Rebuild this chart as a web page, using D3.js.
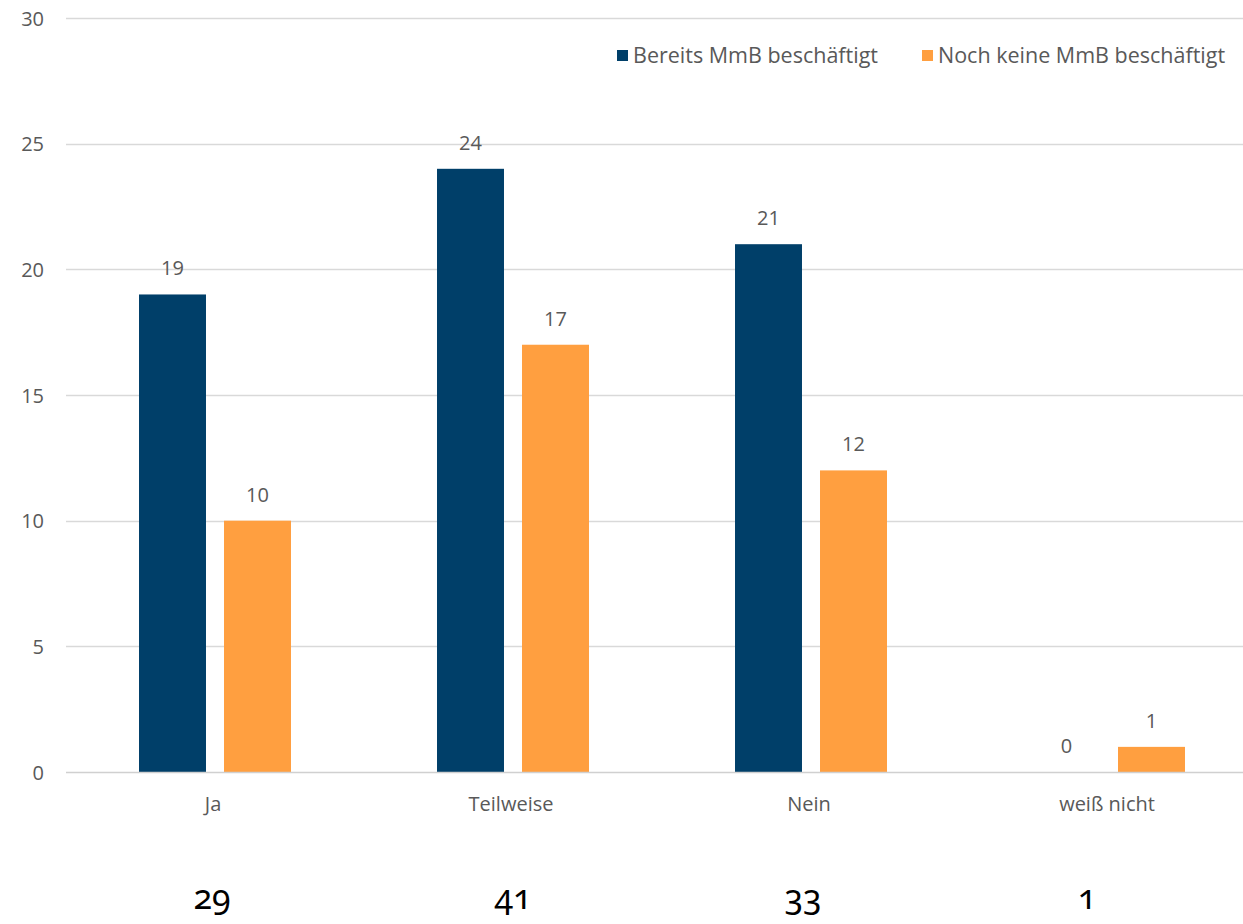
<!DOCTYPE html>
<html>
<head>
<meta charset="utf-8">
<script src="https://cdn.jsdelivr.net/npm/d3@7"></script>
<style>
  html, body { margin: 0; padding: 0; background: #fff; }
  svg { display: block; }
  .lbl { font-family: "Open Sans", sans-serif; fill: #595959; }
  .total { font-family: "Noto Sans", sans-serif; fill: #000; font-variant-numeric: oldstyle-nums; }
</style>
</head>
<body>
<svg id="chart" width="1243" height="924"></svg>
<script>
// Categories and series
const categories = ["Ja", "Teilweise", "Nein", "weiß nicht"];
const seriesNames = ["Bereits MmB beschäftigt", "Noch keine MmB beschäftigt"];
const bereits = [19, 24, 21, 0];
const nochKeine = [10, 17, 12, 1];
const totals = [29, 41, 33, 1];
const yTicks = [0, 5, 10, 15, 20, 25, 30];
const colors = ["#003f69", "#ff9f40"];

const W = 1243, H = 924;
const FS = 20;
const svg = d3.select("#chart");

const y = d3.scaleLinear().domain([0, 30]).range([772, 18]);
const x0 = d3.scaleBand().domain(categories).range([66, 1258])
  .paddingInner(0.49).paddingOuter(0.245);
const x1 = d3.scaleBand().domain(seriesNames).range([0, x0.bandwidth()])
  .paddingInner(0.212);
const color = d3.scaleOrdinal().domain(seriesNames).range(colors);

// Gridlines
svg.append("g").selectAll("line").data(yTicks.filter(t => t > 0)).join("line")
  .attr("x1", 66).attr("x2", W)
  .attr("y1", d => Math.round(y(d)) + 0.5).attr("y2", d => Math.round(y(d)) + 0.5)
  .attr("stroke", "#d9d9d9").attr("stroke-width", 1.5);

// Y axis tick labels
const yAxis = d3.axisLeft(y).tickValues(yTicks).tickSize(0).tickPadding(0);
const gy = svg.append("g").attr("transform", "translate(44,0)").call(yAxis);
gy.select(".domain").remove();
gy.selectAll("text").attr("class", "lbl").attr("font-size", FS).attr("fill", "#595959")
  .attr("dy", "0.35em");

const rows = categories.map((c, i) => ({ cat: c, values: [bereits[i], nochKeine[i]] }));

// Bars
const groups = svg.append("g").selectAll("g").data(rows).join("g")
  .attr("transform", d => `translate(${x0(d.cat)},0)`);

groups.selectAll("rect")
  .data(d => seriesNames.map((s, k) => ({ s, v: d.values[k] })))
  .join("rect")
  .attr("x", d => x1(d.s))
  .attr("width", x1.bandwidth())
  .attr("y", d => y(d.v))
  .attr("height", d => y(0) - y(d.v))
  .attr("fill", d => color(d.s));

// Value labels
groups.selectAll("text")
  .data(d => seriesNames.map((s, k) => ({ s, v: d.values[k] })))
  .join("text")
  .attr("class", "lbl")
  .attr("x", d => x1(d.s) + x1.bandwidth() / 2)
  .attr("y", d => y(d.v) - 19)
  .attr("text-anchor", "middle")
  .attr("font-size", FS)
  .attr("fill", "#404040")
  .text(d => d.v);

// Baseline
svg.append("line")
  .attr("x1", 66).attr("x2", W)
  .attr("y1", y(0) + 0.5).attr("y2", y(0) + 0.5)
  .attr("stroke", "#d0d0d0").attr("stroke-width", 1.5);

// Category axis
const xAxis = d3.axisBottom(x0).tickSize(0).tickPadding(0);
const gx = svg.append("g").attr("transform", "translate(-2,804)").call(xAxis);
gx.select(".domain").remove();
gx.selectAll("text").attr("class", "lbl").attr("font-size", FS).attr("fill", "#595959")
  .attr("dy", "0.35em");

// Totals per category
svg.append("g").selectAll("text").data(categories).join("text")
  .attr("class", "total")
  .attr("x", (d, i) => x0(d) + x0.bandwidth() / 2 + [-3, 0, -8, -22][i])
  .attr("y", 909)
  .attr("text-anchor", "middle")
  .attr("font-size", 34)
  .text((d, i) => totals[i]);

// Legend
const legendX = [617, 922];
const leg = svg.append("g").selectAll("g").data(seriesNames).join("g")
  .attr("transform", (d, i) => `translate(${legendX[i]},50)`);
leg.append("rect").attr("width", 11).attr("height", 11).attr("fill", d => color(d));
leg.append("text").attr("class", "lbl").attr("x", 16).attr("y", 5.5).attr("dy", "0.35em")
  .attr("font-size", 21.5).attr("fill", "#595959").text(d => d);
</script>
</body>
</html>
